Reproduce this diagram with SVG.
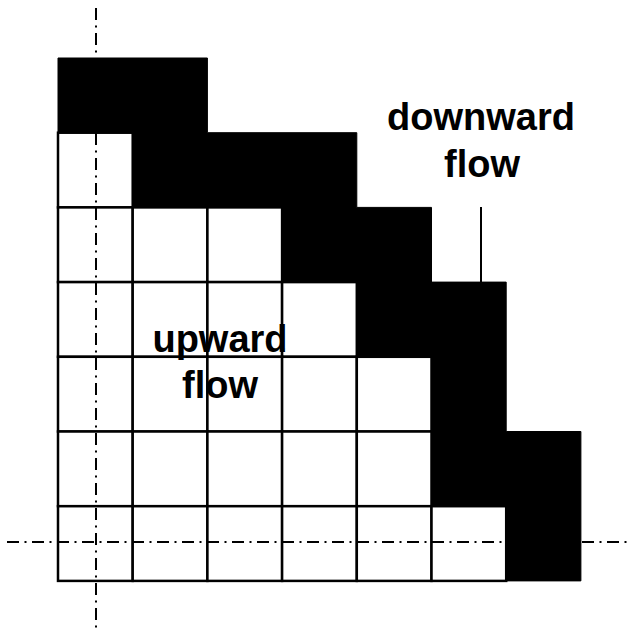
<svg xmlns="http://www.w3.org/2000/svg" width="629" height="628" viewBox="0 0 629 628">
<style>
.cell{fill:#fff;stroke:#000;stroke-width:2.5}
.solid{fill:#000;stroke:#000;stroke-width:1}
.axis{fill:none;stroke:#000;stroke-width:2;stroke-dasharray:12 5.5 2 5.5}
.lbl{font-family:"Liberation Sans",Arial,sans-serif;font-weight:bold;font-size:38px;fill:#000;text-anchor:middle}
.lead{stroke:#000;stroke-width:2}
</style>
<rect width="629" height="628" fill="#fff"/>
<g id="grid">
<rect class="cell" x="58" y="132.7" width="74.7" height="74.7"/>
<rect class="cell" x="58" y="207.4" width="74.7" height="74.7"/>
<rect class="cell" x="132.7" y="207.4" width="74.7" height="74.7"/>
<rect class="cell" x="207.4" y="207.4" width="74.7" height="74.7"/>
<rect class="cell" x="58" y="282.1" width="74.7" height="74.7"/>
<rect class="cell" x="132.7" y="282.1" width="74.7" height="74.7"/>
<rect class="cell" x="207.4" y="282.1" width="74.7" height="74.7"/>
<rect class="cell" x="282.1" y="282.1" width="74.7" height="74.7"/>
<rect class="cell" x="58" y="356.8" width="74.7" height="74.7"/>
<rect class="cell" x="132.7" y="356.8" width="74.7" height="74.7"/>
<rect class="cell" x="207.4" y="356.8" width="74.7" height="74.7"/>
<rect class="cell" x="282.1" y="356.8" width="74.7" height="74.7"/>
<rect class="cell" x="356.8" y="356.8" width="74.7" height="74.7"/>
<rect class="cell" x="58" y="431.5" width="74.7" height="74.7"/>
<rect class="cell" x="132.7" y="431.5" width="74.7" height="74.7"/>
<rect class="cell" x="207.4" y="431.5" width="74.7" height="74.7"/>
<rect class="cell" x="282.1" y="431.5" width="74.7" height="74.7"/>
<rect class="cell" x="356.8" y="431.5" width="74.7" height="74.7"/>
<rect class="cell" x="58" y="506.2" width="74.7" height="74.7"/>
<rect class="cell" x="132.7" y="506.2" width="74.7" height="74.7"/>
<rect class="cell" x="207.4" y="506.2" width="74.7" height="74.7"/>
<rect class="cell" x="282.1" y="506.2" width="74.7" height="74.7"/>
<rect class="cell" x="356.8" y="506.2" width="74.7" height="74.7"/>
<rect class="cell" x="431.5" y="506.2" width="74.7" height="74.7"/>
</g>
<g id="axes">
<line class="axis" x1="96" y1="8" x2="96" y2="628"/>
<line class="axis" x1="7" y1="542" x2="629" y2="542"/>
</g>
<g id="downward-region">
<path class="solid" d="M58,58 H207.4 V132.7 H356.8 V207.4 H431.5 V282.1 H506.2 V431.5 H580.9 V580.9 H506.2 V506.2 H431.5 V356.8 H356.8 V282.1 H282.1 V207.4 H132.7 V132.7 H58 Z"/>
</g>
<g id="upward-label">
<text class="lbl" x="220" y="352">upward</text>
<text class="lbl" x="220" y="398">flow</text>
</g>
<g id="downward-label">
<text class="lbl" x="481" y="130">downward</text>
<text class="lbl" x="482" y="177">flow</text>
</g>
<g id="connectors">
<line class="lead" x1="481" y1="207" x2="481" y2="283"/>
</g>
</svg>
